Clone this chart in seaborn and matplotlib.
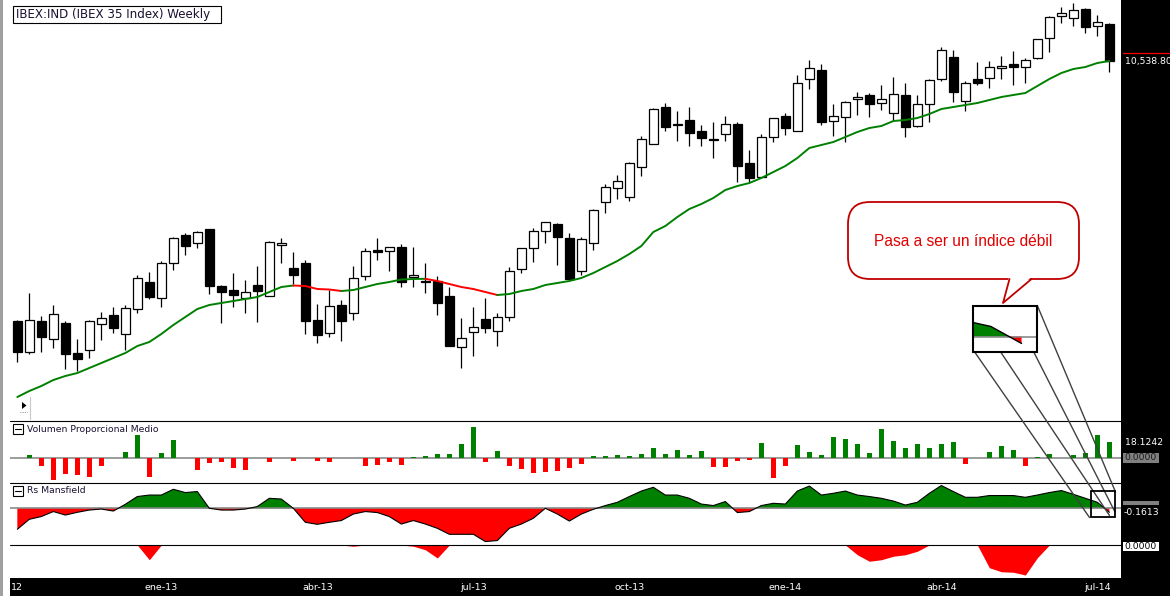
import numpy as np
import pandas as pd
import matplotlib
matplotlib.use("Agg")
import matplotlib.pyplot as plt
import seaborn as sns
from matplotlib.patches import Rectangle, FancyBboxPatch, Polygon

# ---------------- data (weekly IBEX 35, Oct-2012 .. Jul-2014) ----------------
opens = [7940, 7630, 7940, 7760, 7920, 7620, 7650, 7910, 8000, 7810,
         8060, 8330, 8170, 8520, 8800, 8720, 8860, 8290, 8250, 8170,
         8300, 8190, 8700, 8470, 8520, 7950, 7820, 8100, 8020, 8390,
         8650, 8640, 8680, 8380, 8340, 8340, 8190, 7680, 7830, 7960,
         7840, 7980, 8460, 8670, 8840, 8910, 8770, 8440, 8720, 9130,
         9270, 9180, 9480, 9710, 10080, 9910, 9950, 9840, 9760, 9810,
         9910, 9520, 9380, 9780, 9990, 9840, 10360, 10450, 9940, 9980,
         10160, 10200, 10120, 10020, 10200, 9890, 10110, 10360, 10580, 10140,
         10360, 10370, 10470, 10510, 10480, 10570, 10770, 10990, 10970, 11060,
         10890, 10910]
highs = [7950, 8220, 7990, 8100, 7940, 7760, 7950, 8030, 8080, 8100,
         8400, 8430, 8540, 8780, 8820, 8840, 8860, 8300, 8420, 8350,
         8490, 8740, 8770, 8630, 8550, 8110, 8250, 8150, 8490, 8670,
         8770, 8680, 8710, 8680, 8520, 8390, 8280, 7970, 8080, 8170,
         8020, 8480, 8670, 8870, 8930, 8920, 8820, 8780, 9060, 9310,
         9400, 9530, 9790, 10070, 10120, 10040, 10080, 9900, 9930, 9990,
         9930, 9650, 9810, 9970, 10020, 10400, 10550, 10510, 10110, 10140,
         10230, 10220, 10300, 10380, 10320, 10200, 10360, 10680, 10650, 10340,
         10530, 10540, 10590, 10640, 10570, 10760, 10990, 11080, 11120, 11070,
         11000, 10920]
lows = [7530, 7610, 7630, 7670, 7460, 7440, 7570, 7750, 7820, 7650,
        8020, 8160, 8080, 8450, 8600, 8670, 8210, 7920, 8080, 8020,
        7930, 8190, 8520, 8310, 7810, 7720, 7780, 7740, 7950, 8350,
        8550, 8440, 8280, 8280, 8220, 8000, 7690, 7470, 7590, 7820,
        7690, 7940, 8420, 8530, 8720, 8500, 8360, 8400, 8650, 9020,
        9160, 9140, 9390, 9710, 9840, 9740, 9690, 9690, 9570, 9740,
        9330, 9330, 9380, 9730, 9800, 9840, 10260, 9900, 9790, 9730,
        10000, 9980, 10050, 9940, 9780, 9880, 9930, 10340, 10130, 10040,
        10300, 10270, 10360, 10300, 10320, 10560, 10630, 10920, 10890, 10820,
        10790, 10430]
closes = [7630, 7950, 7780, 8010, 7610, 7560, 7940, 7970, 7870, 8070,
          8370, 8180, 8520, 8770, 8690, 8830, 8290, 8230, 8200, 8230,
          8240, 8730, 8720, 8400, 7940, 7800, 8090, 7940, 8370, 8640,
          8630, 8680, 8330, 8400, 8335, 8120, 7690, 7770, 7880, 7870,
          7980, 8440, 8670, 8840, 8930, 8780, 8360, 8760, 9050, 9280,
          9340, 9520, 9760, 10060, 9880, 9905, 9820, 9770, 9755, 9910,
          9490, 9370, 9780, 9970, 9870, 10320, 10470, 9930, 9990, 10130,
          10180, 10110, 10160, 10210, 9880, 10110, 10350, 10650, 10230, 10320,
          10320, 10480, 10490, 10480, 10550, 10760, 10980, 11020, 11050, 10880,
          10930, 10538.8]
moving_avg = [7180, 7240, 7290, 7350, 7390, 7420, 7470, 7520, 7570, 7620,
              7690, 7730, 7810, 7900, 7980, 8060, 8100, 8120, 8140, 8160,
              8180, 8230, 8280, 8295, 8290, 8260, 8255, 8240, 8250, 8280,
              8310, 8330, 8355, 8360, 8362, 8340, 8310, 8280, 8260, 8230,
              8200, 8210, 8240, 8260, 8300, 8320, 8340, 8370, 8420, 8480,
              8540, 8610, 8690, 8830, 8890, 8980, 9060, 9110, 9170, 9250,
              9290, 9320, 9370, 9430, 9490, 9570, 9670, 9700, 9730, 9780,
              9830, 9870, 9890, 9940, 9950, 9970, 10010, 10060, 10080, 10100,
              10120, 10150, 10180, 10200, 10220, 10290, 10360, 10420, 10460, 10480,
              10520, 10540]
volumen = [0, 3.7, -8.6, -24.1, -17.5, -18.6, -20.8, -8.6, 0, 7.0,
           25.9, -20.8, 5.9, 20.3, 0, -13.0, -4.8, -3.7, -10.3, -13.0,
           0, -3.7, 0, -2.6, 0, -2.6, -3.7, 0, 0, -8.6,
           -7.5, -3.7, -7.5, 1.4, 2.6, 4.8, 4.8, 15.9, 34.8, -3.7,
           8.1, -8.6, -11.9, -16.3, -15.2, -13.7, -10.8, -6.3, 2.6, 2.6,
           3.7, 2.6, 4.8, 11.5, 4.8, 9.2, 3.7, 8.1, -9.7, -9.7,
           -2.6, -1.4, 17.0, -21.9, -8.6, 14.8, 7.0, 3.7, 23.7, 21.5,
           15.9, 5.9, 32.6, 19.2, 11.5, 15.9, 11.5, 15.9, 18.1, -5.9,
           0, 7.0, 13.7, 9.2, -8.6, 1.4, 4.8, 0, 3.7, 5.9,
           25.9, 18.1242]
rs_mansfield = [-0.84, -0.44, -0.33, -0.13, -0.27, -0.16, -0.07, -0.03, -0.11, 0.16,
                0.47, 0.53, 0.53, 0.76, 0.63, 0.67, 0.0, -0.07, -0.07, -0.03,
                0.07, 0.40, 0.37, 0.0, -0.56, -0.64, -0.56, -0.49, -0.23, -0.13,
                -0.17, -0.33, -0.63, -0.49, -0.63, -0.80, -1.04, -1.04, -1.04, -1.33,
                -1.29, -0.80, -0.63, -0.40, 0.0, -0.23, -0.51, -0.23, -0.04, 0.11,
                0.24, 0.47, 0.69, 0.84, 0.53, 0.53, 0.40, 0.17, 0.11, 0.27,
                -0.17, -0.13, 0.11, 0.20, 0.17, 0.69, 0.89, 0.53, 0.60, 0.69,
                0.53, 0.47, 0.40, 0.29, 0.13, 0.24, 0.60, 0.91, 0.67, 0.44,
                0.44, 0.51, 0.51, 0.51, 0.44, 0.53, 0.63, 0.71, 0.56, 0.40,
                0.24, -0.1613]
rs_negative = [0, 0, 0, 0, 0, 0, 0, 0, 0, 0,
               0, -0.59, 0, 0, 0, 0, 0, 0, 0, 0,
               0, 0, 0, 0, 0, 0, 0, 0, -0.05, 0,
               0, 0, 0, -0.05, -0.19, -0.52, 0, 0, 0, 0,
               0, 0, 0, 0, 0, 0, 0, 0, 0, 0,
               0, 0, 0, 0, 0, 0, 0, 0, 0, 0,
               0, 0, 0, 0, 0, 0, 0, 0, 0, 0,
               -0.39, -0.65, -0.59, -0.45, -0.39, -0.25, 0, 0, 0, 0,
               0, -0.91, -1.07, -1.09, -1.20, -0.51, 0, 0, 0, 0,
               0, 0]
tick_pos = [12, 25, 38, 51, 64, 77, 90]
tick_labels = ["ene-13", "abr-13", "jul-13", "oct-13", "ene-14", "abr-14", "jul-14"]
edge_label = "12"          # visible tail of the clipped first date label
title_text = "IBEX:IND (IBEX 35 Index) Weekly"
bubble_text = "Pasa a ser un índice débil"

df = pd.DataFrame(dict(i=np.arange(len(closes)), open=opens, high=highs, low=lows,
                       close=closes, ma=moving_avg, vol=volumen, rs=rs_mansfield,
                       rs2=rs_negative))

# ---------------- figure ----------------
sns.set_theme(style="white")
plt.rcParams['font.family'] = ['DejaVu Sans']
W, H = 1170, 596
fig = plt.figure(figsize=(W / 100, H / 100), dpi=100)
fig.patch.set_facecolor('white')


def ax_at(x0, y0, x1, y1):
    return fig.add_axes([x0 / W, 1 - y1 / H, (x1 - x0) / W, (y1 - y0) / H])


X0, X1 = 10, 1121
XL = (-0.61, 91.97)
GREEN, RED = '#008000', '#ff0000'

main = ax_at(X0, 0, X1, 421)
vol = ax_at(X0, 421, X1, 483)
rsax = ax_at(X0, 483, X1, 545)
rs2ax = ax_at(X0, 545, X1, 578)

# candles
up = df.close >= df.open
main.vlines(df.i, df.low, df.high, color='black', lw=0.9, zorder=2)
body_bottom = np.minimum(df.open, df.close)
body_h = np.maximum(np.abs(df.close - df.open), 6)
main.bar(df.i, body_h, bottom=body_bottom, width=0.78,
         color=np.where(up, 'white', 'black'), edgecolor='black', linewidth=0.9, zorder=3)

# moving average coloured by slope
ma_arr = df.ma.values
cols = [RED if ma_arr[k + 1] < ma_arr[k] else GREEN for k in range(len(ma_arr) - 1)]
start = 0
for k in range(1, len(cols) + 1):
    if k == len(cols) or cols[k] != cols[start]:
        seg = df.iloc[start:k + 1]
        sns.lineplot(x=seg.i.values, y=seg.ma.values, color=cols[start], lw=1.4,
                     ax=main, zorder=4)
        start = k
main.set_ylim(6940, 11150)

# volume
vnz = df[df.vol != 0]
vol.bar(vnz.i, vnz.vol, width=0.42, color=np.where(vnz.vol >= 0, GREEN, RED), lw=0, zorder=2)
vol.axhline(0, color='#808080', lw=1.1, zorder=1)
vol.set_ylim(-27.5, 41.5)


def draw_rs(ax, lw_out=0.8):
    ax.fill_between(df.i, df.rs, 0, where=df.rs >= 0, interpolate=True, color=GREEN, lw=0)
    ax.fill_between(df.i, df.rs, 0, where=df.rs <= 0, interpolate=True, color=RED, lw=0)
    ax.axhline(0, color='#808080', lw=1.1, zorder=3)
    sns.lineplot(x=df.i.values, y=df.rs.values, color='black', lw=lw_out, ax=ax, zorder=4)


draw_rs(rsax)
rsax.set_ylim(-1.468, 1.012)

rs2ax.fill_between(df.i, df.rs2, 0, color=RED, lw=0)
rs2ax.set_ylim(-1.32, 0)

for a in (main, vol, rsax, rs2ax):
    a.set_xlim(*XL)
    a.set_axis_off()

# magnified inset
ins = ax_at(974, 307, 1036, 351)
draw_rs(ins, lw_out=1.0)
ins.set_xlim(89.45, 91.47)
ins.set_ylim(-0.34, 0.70)
ins.set_axis_off()

# bottom date strip
bot = ax_at(10, 578, 1170, 596)
bot.set_facecolor('black')
bot.set_xlim(-0.61, (1170 - 17.3) / 12)
bot.set_ylim(0, 1)
for p, lab in zip(tick_pos, tick_labels):
    bot.text(p, 0.47, lab, color='white', fontsize=6.8, ha='center', va='center', clip_on=True)
bot.text(0.0005, 0.47, edge_label, color='white', fontsize=6.8, ha='left', va='center',
         transform=bot.transAxes)
bot.set_xticks([]); bot.set_yticks([])
for s in bot.spines.values():
    s.set_visible(False)

# ---------------- overlay (pixel coords) ----------------
ov = fig.add_axes([0, 0, 1, 1])
ov.set_xlim(0, W)
ov.set_ylim(H, 0)
ov.set_axis_off()
ov.patch.set_visible(False)

ov.add_patch(Rectangle((0, 0), 3, H, color='#a0a0a0', lw=0))
ov.add_patch(Rectangle((1121, 0), 49, 578, color='black', lw=0))
for yy in (421, 483, 545):
    ov.plot([X0, X1], [yy, yy], color='black', lw=0.8)

# title box
ov.add_patch(Rectangle((12.5, 5.7), 208, 17.6, facecolor='white', edgecolor='black', lw=0.8))
ov.text(16.5, 14.8, title_text, fontsize=8.6, color='#1a1030', va='center', ha='left')

# panel headers
for yc, lab in ((429.3, "Volumen Proporcional Medio"), (490.8, "Rs Mansfield")):
    ov.add_patch(Rectangle((12.7, yc - 5), 10, 10, facecolor='white', edgecolor='black', lw=0.8))
    ov.plot([14.8, 20.6], [yc, yc], color='black', lw=0.8)
    ov.text(27.3, yc, lab, fontsize=6.7, color='#1a1030', va='center', ha='left')

# small play icon
ov.add_patch(Polygon([(22, 402), (22, 409), (26.5, 405.5)], closed=True, color='black', lw=0))
ov.plot([20, 27], [412, 412], color='#606060', lw=0.6, ls=':')
ov.plot([30, 30], [397, 419], color='#c8c8c8', lw=0.8)

# right axis labels
ov.plot([1123, 1170], [53.3, 53.3], color=RED, lw=0.9)
ov.text(1125, 61.7, "10,538.80", color='white', fontsize=6.7, va='center', ha='left')
ov.text(1125, 442.3, "18.1242", color='white', fontsize=6.7, va='center', ha='left')
ov.add_patch(Rectangle((1122.5, 452.5), 36, 10.5, color='#808080', lw=0))
ov.text(1124.5, 457.8, "0.0000", color='#1a1a1a', fontsize=6.7, va='center', ha='left')
ov.add_patch(Rectangle((1122.5, 501), 36, 3.5, color='#808080', lw=0))
ov.text(1124, 512.3, "-0.1613", color='white', fontsize=6.7, va='center', ha='left')
ov.add_patch(Rectangle((1122.5, 541.5), 36, 9, color='white', lw=0))
ov.text(1124.5, 546.2, "0.0000", color='black', fontsize=6.7, va='center', ha='left')

# speech bubble
ov.add_patch(FancyBboxPatch((848, 202), 231, 77, boxstyle="round,pad=0,rounding_size=22",
                            facecolor='white', edgecolor='#c00000', lw=1.3, zorder=6))
ov.add_patch(Polygon([(1009, 276.5), (1003, 303), (1032, 276.5)], closed=True,
                     facecolor='white', edgecolor='none', zorder=7))
ov.plot([1009.5, 1003, 1031.5], [279, 303, 279], color='#c00000', lw=1.3, zorder=8)
ov.text(963, 241.5, bubble_text, fontsize=11.2, color='#e00000', family='Liberation Sans',
        ha='center', va='center', zorder=9)

# zoom boxes and connecting lines
ov.add_patch(Rectangle((973, 306), 64, 46, facecolor='none', edgecolor='black', lw=1.5, zorder=6))
ov.add_patch(Rectangle((1091, 491), 24, 26, facecolor='none', edgecolor='black', lw=1.3, zorder=6))
for (xa, ya), (xb, yb) in [((975, 352.5), (1089.5, 517.5)), ((1001, 352.5), (1109.5, 515.5)),
                           ((1034, 352.5), (1115, 512)), ((1037.5, 306), (1115.5, 492))]:
    ov.plot([xa, xb], [ya, yb], color='#404040', lw=1.0, zorder=5)

fig.savefig("out.png", dpi=100)
